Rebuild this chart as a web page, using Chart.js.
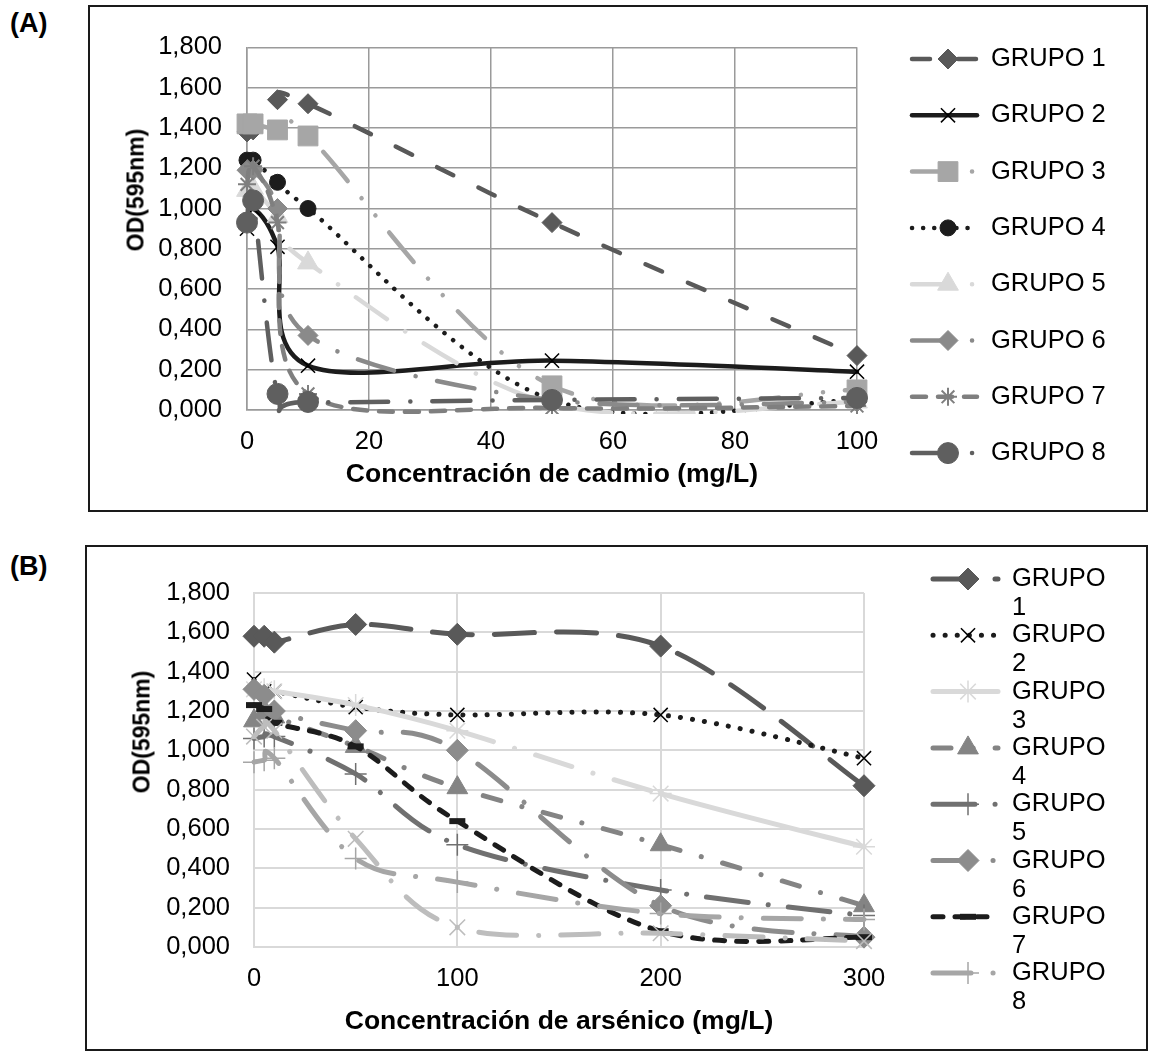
<!DOCTYPE html>
<html>
<head>
<meta charset="utf-8">
<script src="https://cdn.jsdelivr.net/npm/chart.js"></script>
<style>
  body { margin: 0; background: #fff; width: 1150px; height: 1055px; position: relative; overflow: hidden;
         font-family: "Liberation Sans", Arial, sans-serif; color: #000; }
  .frame { position: absolute; border: 2px solid #1a1a1a; box-sizing: border-box; }
  .panel { position: absolute; font-weight: bold; font-size: 27px; }
  .ytitle { position: absolute; font-weight: bold; font-size: 23px; white-space: nowrap;
            transform: translate(-50%, -50%) rotate(-90deg); }
  canvas { position: absolute; }
</style>
</head>
<body>
<div class="panel" style="left:10px; top:8px;">(A)</div>
<div class="frame" style="left:88px; top:5px; width:1060px; height:507px;"></div>
<canvas id="chartA" width="1056" height="503" style="left:90px; top:7px;"></canvas>
<div class="ytitle" style="left:136px; top:190px;">OD(595nm)</div>

<div class="panel" style="left:10px; top:551px;">(B)</div>
<div class="frame" style="left:85px; top:545px; width:1063px; height:506px;"></div>
<canvas id="chartB" width="1059" height="502" style="left:87px; top:547px;"></canvas>
<div class="ytitle" style="left:142px; top:732px;">OD(595nm)</div>

<script>
// (A) cadmio
const xCadmio = [0, 1, 5, 10, 50, 100];
const grupo1A = [1.38, 1.39, 1.54, 1.52, 0.93, 0.27];
const grupo2A = [0.90, 1.00, 0.81, 0.22, 0.245, 0.19];
const grupo3A = [1.42, 1.42, 1.39, 1.36, 0.12, 0.10];
const grupo4A = [1.24, 1.24, 1.13, 1.00, 0.05, 0.05];
const grupo5A = [1.09, 1.10, 0.96, 0.73, 0.03, 0.04];
const grupo6A = [1.19, 1.19, 1.00, 0.37, 0.05, 0.04];
const grupo7A = [1.12, 1.21, 0.93, 0.08, 0.01, 0.02];
const grupo8A = [0.93, 1.04, 0.08, 0.04, 0.05, 0.06];
const xTicksA = [0, 20, 40, 60, 80, 100];

// (B) arsénico
const xArsenico = [0, 5, 10, 50, 100, 200, 300];
const grupo1B = [1.58, 1.58, 1.55, 1.64, 1.59, 1.53, 0.82];
const grupo2B = [1.36, 1.30, 1.30, 1.22, 1.18, 1.18, 0.96];
const grupo3B = [1.31, 1.31, 1.30, 1.23, 1.10, 0.78, 0.51];
const grupo4B = [1.15, 1.19, 1.17, 1.02, 0.81, 0.52, 0.21];
const grupo5B = [1.06, 1.07, 1.07, 0.88, 0.52, 0.29, 0.16];
const grupo6B = [1.31, 1.28, 1.20, 1.10, 1.00, 0.21, 0.05];
const grupo7B = [1.23, 1.21, 1.14, 1.02, 0.64, 0.08, 0.05];
const grupo8B = [0.94, 0.95, 0.96, 0.45, 0.33, 0.17, 0.14];
const sinLeyendaB = [1.07, 1.12, 1.10, 0.55, 0.10, 0.07, 0.03];
const xTicksB = [0, 100, 200, 300];

const grupos = ['GRUPO 1', 'GRUPO 2', 'GRUPO 3', 'GRUPO 4', 'GRUPO 5', 'GRUPO 6', 'GRUPO 7', 'GRUPO 8'];
const yTicks = [0, 0.2, 0.4, 0.6, 0.8, 1.0, 1.2, 1.4, 1.6, 1.8];

const FONT = '"Liberation Sans", Arial, sans-serif';
const DASH_DOT = [38, 22, 0.1, 22];

// excel style smoothing: control points at P +/- (next - prev) / 6
const excelSmooth = {
    id: 'excelSmooth',
    beforeDatasetsDraw(chart) {
        chart.getSortedVisibleDatasetMetas().forEach(meta => {
            const pts = meta.data;
            const n = pts.length;
            for (let i = 0; i < n; i++) {
                const p = pts[i];
                const prev = pts[Math.max(i - 1, 0)];
                const next = pts[Math.min(i + 1, n - 1)];
                const dx = (next.x - prev.x) / 6;
                const dy = (next.y - prev.y) / 6;
                p.cp1x = p.x - dx; p.cp1y = p.y - dy;
                p.cp2x = p.x + dx; p.cp2y = p.y + dy;
            }
            meta.dataset._pointsUpdated = true;
        });
    }
};

// legend on the right: line sample with marker, then the label
const sideLegend = {
    id: 'sideLegend',
    afterDraw(chart, args, opts) {
        const ctx = chart.ctx;
        const gap = opts.lineGap || 0;
        let row = 0;
        chart.data.datasets.forEach(ds => {
            if (!ds.label) return;
            const y = opts.top + row * opts.step;
            row++;
            ctx.save();
            ctx.strokeStyle = ds.borderColor;
            ctx.lineWidth = ds.borderWidth;
            ctx.lineCap = 'round';
            ctx.setLineDash(ds.borderDash || []);
            ctx.beginPath();
            ctx.moveTo(opts.lineStart, y);
            ctx.lineTo(opts.lineEnd, y);
            ctx.stroke();
            ctx.setLineDash([]);
            ctx.fillStyle = ds.pointBackgroundColor;
            ctx.strokeStyle = ds.pointBorderColor;
            ctx.lineWidth = ds.pointBorderWidth;
            ctx.lineCap = 'butt';
            if (Chart.helpers && Chart.helpers.drawPoint) {
                Chart.helpers.drawPoint(ctx, {
                    pointStyle: ds.pointStyle, radius: ds.pointRadius, rotation: 0, borderWidth: ds.pointBorderWidth
                }, opts.marker, y);
            }
            ctx.fillStyle = '#000';
            ctx.font = '25.5px ' + FONT;
            ctx.textBaseline = 'middle';
            ctx.textAlign = 'left';
            const parts = opts.wrap ? ds.label.split(' ') : [ds.label];
            parts.forEach((t, k) => ctx.fillText(t, opts.text, y + k * gap));
            ctx.restore();
        });
    }
};

function makeSet(label, xs, ys, st, lineWidth, index) {
    const filled = !['crossRot', 'cross', 'star', 'line'].includes(st.point);
    const ds = {
        label: label,
        data: xs.map((x, i) => ({ x: x, y: ys[i] })),
        borderColor: st.color,
        borderWidth: lineWidth,
        borderDash: st.dash,
        borderCapStyle: 'round',
        tension: 0.3,
        pointStyle: st.point,
        pointRadius: st.r,
        pointBackgroundColor: st.color,
        pointBorderColor: st.markColor || st.color,
        pointBorderWidth: st.pbw || (filled ? 1 : 1.5),
        fill: false,
        order: -index,
        clip: { left: 20, right: 30, top: 20, bottom: 4 }
    };
    if (st.segDash) {
        ds.segment = { borderDash: c => (c.p0DataIndex === st.segDash.from ? st.segDash.dash : undefined) };
    }
    return ds;
}

function scales(xTicks, xMax, xTitle, o) {
    const tickFont = { family: FONT, size: 25.5 };
    return {
        x: {
            type: 'linear', min: 0, max: xMax,
            afterBuildTicks: s => { s.ticks = xTicks.map(v => ({ value: v })); },
            afterFit: s => { s.height = o.xHeight; },
            grid: { color: o.grid, lineWidth: o.gridWidth, drawTicks: false },
            border: { color: o.grid, width: o.gridWidth },
            ticks: { color: '#000', font: tickFont, padding: 17, maxRotation: 0, callback: v => String(v) },
            title: { display: true, text: xTitle, color: '#000', font: { family: FONT, size: 26.5, weight: 'bold' },
                     padding: { top: 0, bottom: o.titlePad } }
        },
        y: {
            min: 0, max: 1.8,
            afterBuildTicks: s => { s.ticks = yTicks.map(v => ({ value: v })); },
            afterFit: s => { s.width = o.yWidth; },
            grid: { color: o.grid, lineWidth: o.gridWidth, drawTicks: false },
            border: { color: o.grid, width: o.gridWidth },
            ticks: { color: '#000', font: tickFont, padding: o.yPad, callback: v => v.toFixed(3).replace('.', ',') }
        }
    };
}

const stylesA = [
    { color: '#595959', dash: [18, 28], point: 'rectRot', r: 10 },
    { color: '#1c1c1c', dash: [], point: 'crossRot', r: 10, markColor: '#000', pbw: 1.5 },
    { color: '#a6a6a6', dash: [38, 22, 0.1, 22, 0.1, 22], point: 'rect', r: 14 },
    { color: '#1c1c1c', dash: [0.1, 11], point: 'circle', r: 8 },
    { color: '#d9d9d9', dash: DASH_DOT, point: 'triangle', r: 12 },
    { color: '#8a8a8a', dash: DASH_DOT, point: 'rectRot', r: 10 },
    { color: '#7f7f7f', dash: [14, 12], point: 'star', r: 9, pbw: 2 },
    { color: '#5f5f5f', dash: DASH_DOT, point: 'circle', r: 10.5 }
];
const valuesA = [grupo1A, grupo2A, grupo3A, grupo4A, grupo5A, grupo6A, grupo7A, grupo8A];

new Chart(document.getElementById('chartA'), {
    type: 'line',
    data: { datasets: valuesA.map((ys, i) => makeSet(grupos[i], xCadmio, ys, stylesA[i], 4.5, i)) },
    options: {
        responsive: false, animation: false, events: [],
        layout: { padding: { top: 24, right: 289, left: 0, bottom: 0 } },
        scales: scales(xTicksA, 100, 'Concentración de cadmio (mg/L)',
            { xHeight: 100, yWidth: 157, yPad: 25, grid: '#9a9a9a', gridWidth: 1.5, titlePad: 19 }),
        plugins: {
            legend: { display: false }, tooltip: { enabled: false },
            sideLegend: { top: 52, step: 56.3, lineStart: 822, lineEnd: 887, marker: 858, text: 901, wrap: false }
        }
    },
    plugins: [excelSmooth, sideLegend]
});

const stylesB = [
    { color: '#595959', dash: [40, 22], point: 'rectRot', r: 11 },
    { color: '#1c1c1c', dash: [0.1, 12], point: 'crossRot', r: 10, markColor: '#000', pbw: 1.5 },
    { color: '#d9d9d9', dash: [], point: 'star', r: 11, pbw: 1.5, segDash: { from: 4, dash: DASH_DOT } },
    { color: '#848484', dash: [18, 22, 0.1, 22], point: 'triangle', r: 12 },
    { color: '#707070', dash: [42, 20, 0.1, 20], point: 'cross', r: 11, pbw: 1.5 },
    { color: '#8c8c8c', dash: DASH_DOT, point: 'rectRot', r: 11 },
    { color: '#1c1c1c', dash: [10, 12], point: 'line', r: 8, pbw: 6 },
    { color: '#a6a6a6', dash: DASH_DOT, point: 'cross', r: 11, pbw: 1.5 },
    { color: '#bdbdbd', dash: DASH_DOT, point: 'crossRot', r: 11, pbw: 1.5 }
];
const valuesB = [grupo1B, grupo2B, grupo3B, grupo4B, grupo5B, grupo6B, grupo7B, grupo8B, sinLeyendaB];

new Chart(document.getElementById('chartB'), {
    type: 'line',
    data: { datasets: valuesB.map((ys, i) => makeSet(grupos[i] || '', xArsenico, ys, stylesB[i], 5, i)) },
    options: {
        responsive: false, animation: false, events: [],
        layout: { padding: { top: 46, right: 282, left: 0, bottom: 0 } },
        scales: scales(xTicksB, 300, 'Concentración de arsénico (mg/L)',
            { xHeight: 102, yWidth: 167, yPad: 24, grid: '#d9d9d9', gridWidth: 2, titlePad: 11 }),
        plugins: {
            legend: { display: false }, tooltip: { enabled: false },
            sideLegend: { top: 32, step: 56.3, lineStart: 846, lineEnd: 911, marker: 881, text: 925, wrap: true, lineGap: 29 }
        }
    },
    plugins: [excelSmooth, sideLegend]
});
</script>
</body>
</html>
